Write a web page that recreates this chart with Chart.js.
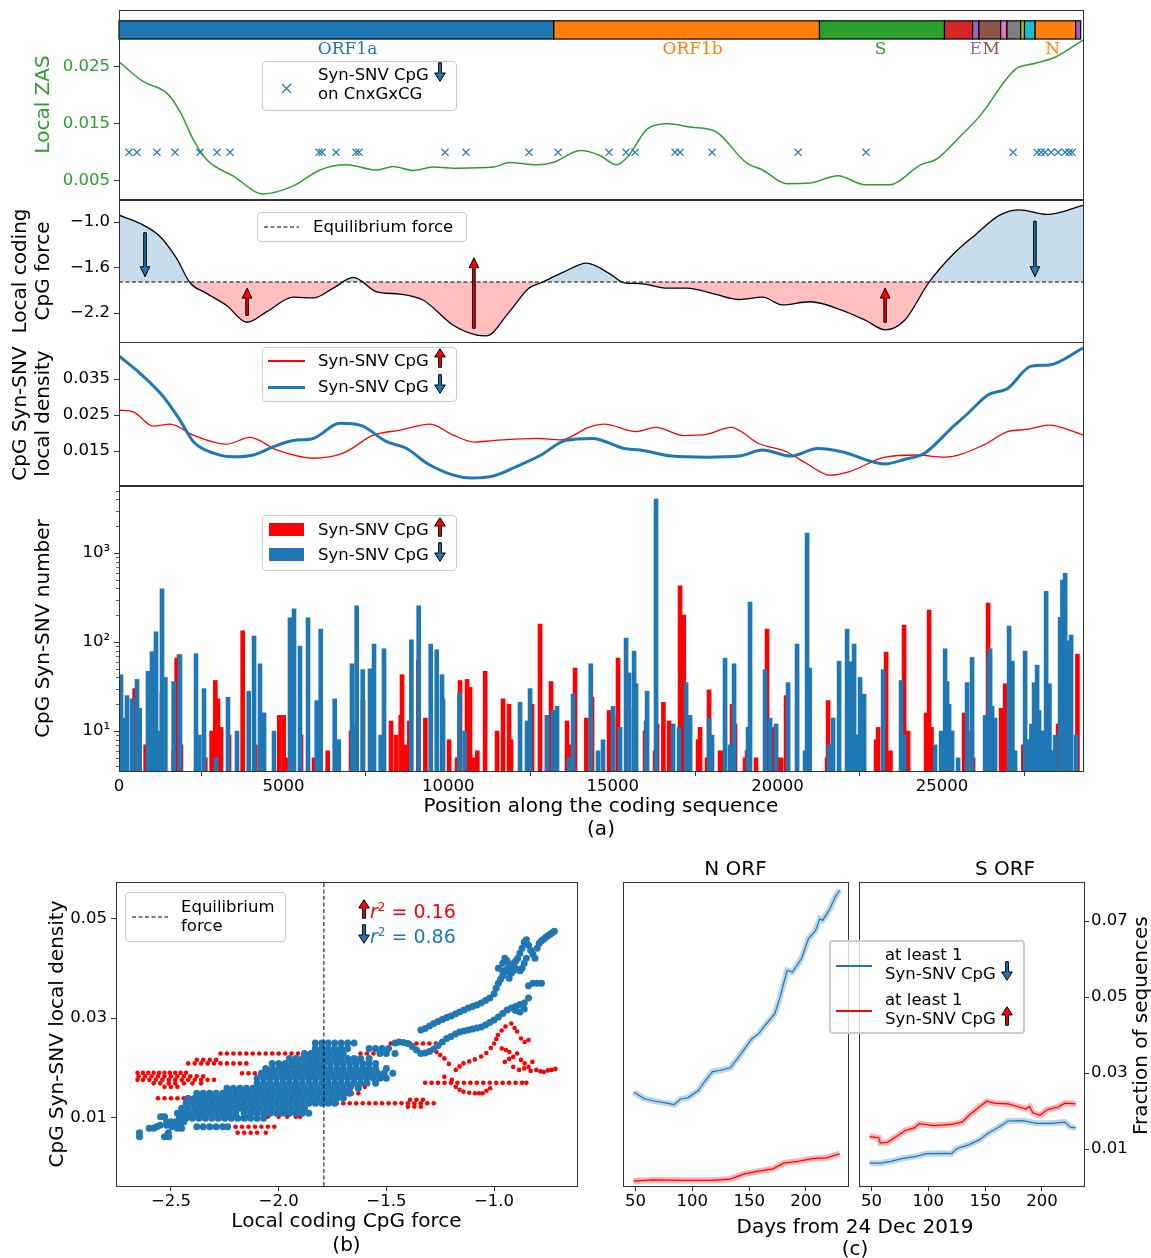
<!DOCTYPE html>
<html>
<head>
<meta charset="utf-8">
<script src="https://cdn.jsdelivr.net/npm/chart.js@4.4.1/dist/chart.umd.min.js"></script>
<style>
  body { margin: 0; background: #fff; font-family: 'DejaVu Sans', sans-serif; }
  #wrap { position: relative; width: 1151px; height: 1258px; overflow: hidden; }
  canvas { position: absolute; }
  .lg { position: absolute; background: rgba(255,255,255,0.8); border: 1px solid #ccc; border-radius: 4px; box-sizing: border-box; }
  .t { position: absolute; font-size: 16.5px; line-height: 19px; white-space: nowrap; color: #000; }
  .tt { position: absolute; font-size: 20px; line-height: 24px; white-space: nowrap; color: #000; }
  .ar { display: inline-block; vertical-align: middle; margin-top: -3px; }
</style>
</head>
<body>
<div id="wrap">
  <canvas id="zas" width="1151" height="200" style="left:0;top:0"></canvas>
  <canvas id="force" width="1151" height="150" style="left:0;top:195px"></canvas>
  <canvas id="dens" width="1151" height="150" style="left:0;top:337px"></canvas>
  <canvas id="bars" width="1151" height="365" style="left:0;top:480px"></canvas>
  <canvas id="scat" width="600" height="388" style="left:0;top:870px"></canvas>
  <canvas id="nOrf" width="260" height="362" style="left:600px;top:855px"></canvas>
  <canvas id="sOrf" width="301" height="362" style="left:850px;top:855px"></canvas>

  <!-- panel (a) legends -->
  <div class="lg" style="left:262px;top:61px;width:195px;height:50px"></div>
  <svg style="position:absolute;left:281px;top:83px" width="11" height="11"><path d="M1 1 L10 10 M10 1 L1 10" stroke="#1f77b4" stroke-width="1.2"/></svg>
  <div class="t" style="left:318px;top:65px">Syn-SNV CpG <span class="ar dn"></span></div>
  <div class="t" style="left:318px;top:84px">on CnxGxCG</div>

  <div class="lg" style="left:257px;top:212px;width:210px;height:30px"></div>
  <svg style="position:absolute;left:264px;top:225px" width="35" height="4"><line x1="0" y1="2" x2="35" y2="2" stroke="#000" stroke-width="1.2" stroke-dasharray="4,2.5"/></svg>
  <div class="t" style="left:313px;top:217px">Equilibrium force</div>

  <div class="lg" style="left:262px;top:347px;width:195px;height:55px"></div>
  <div style="position:absolute;left:268px;top:360px;width:37px;height:1.5px;background:#ff0000"></div>
  <div style="position:absolute;left:268px;top:385.5px;width:37px;height:3px;background:#1f77b4"></div>
  <div class="t" style="left:318px;top:351px">Syn-SNV CpG <span class="ar up"></span></div>
  <div class="t" style="left:318px;top:377px">Syn-SNV CpG <span class="ar dn"></span></div>

  <div class="lg" style="left:262px;top:515px;width:195px;height:56px"></div>
  <div style="position:absolute;left:269px;top:523px;width:35px;height:13px;background:#ff0000"></div>
  <div style="position:absolute;left:269px;top:548px;width:35px;height:13px;background:#1f77b4"></div>
  <div class="t" style="left:318px;top:520px">Syn-SNV CpG <span class="ar up"></span></div>
  <div class="t" style="left:318px;top:545px">Syn-SNV CpG <span class="ar dn"></span></div>

  <!-- panel (b) legend and r2 notes -->
  <div class="lg" style="left:125px;top:892px;width:161px;height:50px"></div>
  <svg style="position:absolute;left:132px;top:915px" width="36" height="4"><line x1="0" y1="2" x2="36" y2="2" stroke="#000" stroke-width="1.2" stroke-dasharray="4,2.5"/></svg>
  <div class="t" style="left:181px;top:897px">Equilibrium</div>
  <div class="t" style="left:181px;top:916px">force</div>
  <div class="t" style="left:358px;top:896px;font-size:19px;line-height:22px;color:#ff0000"><span class="ar up"></span><i>r</i><sup style="font-size:12px">2</sup> = 0.16</div>
  <div class="t" style="left:358px;top:921px;font-size:19px;line-height:22px;color:#1f77b4"><span class="ar dn"></span><i>r</i><sup style="font-size:12px">2</sup> = 0.86</div>

  <!-- panel (c) legend and shared labels -->
  <div class="lg" style="left:829px;top:940px;width:196px;height:94px;border:2px solid #ccc"></div>
  <div style="position:absolute;left:836px;top:965px;width:36px;height:1.5px;background:#1f77b4"></div>
  <div style="position:absolute;left:836px;top:1010px;width:36px;height:1.5px;background:#ff0000"></div>
  <div class="t" style="left:885px;top:945px">at least 1</div>
  <div class="t" style="left:885px;top:964px">Syn-SNV CpG <span class="ar dn"></span></div>
  <div class="t" style="left:885px;top:990px">at least 1</div>
  <div class="t" style="left:885px;top:1009px">Syn-SNV CpG <span class="ar up"></span></div>
  <div class="tt" style="left:655px;top:1214px;width:400px;text-align:center">Days from 24 Dec 2019</div>
  <div class="tt" style="left:655px;top:1236px;width:400px;text-align:center">(c)</div>
  <div class="tt" style="left:1040px;top:1023px;width:200px;text-align:center;transform:rotate(-90deg)">Fraction of sequences</div>
</div>

<script>
// ---------- genome annotation ----------
const geneStart  = [0, 13207, 21276, 25073, 25926, 26118, 26780, 26971, 27388, 27503, 27825, 29058];
const geneEnd    = [13207, 21276, 25073, 25926, 26118, 26780, 26971, 27388, 27503, 27825, 29058, 29210];
const geneColors = ['#1f77b4', '#ff7f0e', '#2ca02c', '#d62728', '#9467bd', '#8c564b', '#e377c2', '#7f7f7f', '#bcbd22', '#17becf', '#ff7f0e', '#9467bd'];
const geneLabels = ['ORF1a', 'ORF1b', 'S', 'E', 'M', 'N'];
const geneLabelPos = [6941, 17421, 23135, 26021, 26489, 28357];
const geneLabelColors = ['#1f77b4', '#ff7f0e', '#2ca02c', '#9467bd', '#8c564b', '#ff7f0e'];

// ---------- local ZAS ----------
const zasPos = [0, 740, 1450, 1850, 2260, 2665, 3475, 4385, 5295, 6105, 6915, 7830, 8330, 8940, 9550, 10300, 11380, 11860, 12700, 13180, 14025, 14620, 15105, 15460, 16065, 16665, 17385, 18105, 19070, 19550, 20270, 20990, 21830, 22670, 23390, 24350, 24830, 25500, 26150, 27230, 27800, 28430, 29280];
const zasVal = [0.0259, 0.0224, 0.0204, 0.0172, 0.0122, 0.0087, 0.0058, 0.0027, 0.0041, 0.0069, 0.0078, 0.0069, 0.0075, 0.0068, 0.0074, 0.0072, 0.0074, 0.0082, 0.0078, 0.0082, 0.0103, 0.0094, 0.0078, 0.0093, 0.0142, 0.0150, 0.0144, 0.0137, 0.0081, 0.0069, 0.0045, 0.0046, 0.0059, 0.0043, 0.0043, 0.0078, 0.0088, 0.0125, 0.0164, 0.0246, 0.0256, 0.0267, 0.0297];
const cnxgxcgPos = [304, 547, 1154, 1701, 2460, 2977, 3372, 6075, 6167, 6592, 7199, 7290, 9903, 10540, 12454, 13335, 14884, 15401, 15674, 16889, 17041, 18013, 20625, 22691, 27156, 27885, 28007, 28128, 28311, 28523, 28736, 28858, 28949];
const cnxgxcgLevel = 0.01;

// ---------- local coding CpG force ----------
const forcePos = [0, 640, 1245, 1750, 2157, 2660, 3270, 3880, 4490, 5295, 5900, 6510, 7120, 7830, 8535, 9245, 10155, 10865, 11150, 11860, 12455, 12820, 13500, 14200, 14900, 15340, 15825, 16665, 17250, 18100, 18830, 19550, 20140, 20990, 21950, 22700, 23270, 23870, 24590, 25300, 26030, 26750, 27340, 28190, 29280];
const forceVal = [-0.91, -1.02, -1.19, -1.48, -1.80, -1.94, -2.10, -2.32, -2.18, -1.99, -2.00, -1.87, -1.73, -1.92, -1.95, -2.03, -2.36, -2.49, -2.50, -2.18, -1.87, -1.80, -1.66, -1.54, -1.68, -1.80, -1.81, -1.87, -1.87, -1.95, -2.02, -1.99, -2.09, -2.05, -2.16, -2.30, -2.42, -2.29, -1.80, -1.44, -1.16, -0.91, -0.84, -0.90, -0.78];
const equilibriumForce = -1.79;
const arrowPos  = [790, 3890, 10780, 23270, 27820];
const arrowFrom = [-1.14, -2.23, -2.40, -2.32, -0.99];
const arrowTo   = [-1.72, -1.87, -1.47, -1.87, -1.72];

// ---------- CpG Syn-SNV local density ----------
const densBluePos = [0, 640, 1350, 1850, 2260, 2870, 3470, 4080, 4690, 5295, 5900, 6710, 7320, 8130, 8740, 9350, 10155, 10700, 11380, 12100, 12820, 13545, 14385, 15340, 15825, 16785, 17865, 18830, 19550, 20390, 21225, 21950, 23270, 23870, 24470, 25310, 25790, 26390, 26990, 27710, 28250, 29280];
const densBlue = [0.0414, 0.0366, 0.0301, 0.0236, 0.0176, 0.0144, 0.0134, 0.0139, 0.0162, 0.0179, 0.0185, 0.0227, 0.0222, 0.0176, 0.0157, 0.0116, 0.0083, 0.0075, 0.0081, 0.0108, 0.0139, 0.0179, 0.0185, 0.0157, 0.0153, 0.0136, 0.0133, 0.0136, 0.0153, 0.0136, 0.0157, 0.0148, 0.0114, 0.0127, 0.0144, 0.0216, 0.0255, 0.0306, 0.0324, 0.0386, 0.0389, 0.0436];
const densRedPos = [0, 435, 1040, 1550, 2260, 3270, 3980, 4790, 5900, 6810, 7725, 8535, 9450, 10155, 10800, 11380, 12700, 13430, 14265, 14745, 15705, 16305, 17145, 17865, 18590, 19425, 20270, 20870, 21590, 22190, 23270, 24230, 25070, 26270, 26990, 27590, 28250, 29280];
const densRed = [0.0264, 0.0259, 0.0219, 0.0225, 0.0194, 0.0169, 0.0188, 0.0153, 0.0130, 0.0144, 0.0194, 0.0208, 0.0225, 0.0194, 0.0175, 0.0179, 0.0185, 0.0181, 0.0216, 0.0225, 0.0204, 0.0216, 0.0193, 0.0197, 0.0216, 0.0171, 0.0148, 0.0116, 0.0083, 0.0093, 0.0133, 0.0139, 0.0133, 0.0167, 0.0204, 0.0210, 0.0222, 0.0195];

// ---------- CpG Syn-SNV number (histogram) ----------
const blueBarPos = [30, 122, 213, 304, 456, 608, 689, 942, 1063, 1185, 1276, 1367, 1468, 1722, 1914, 2400, 2500, 2643, 3007, 3372, 3645, 4000, 4162, 4344, 4466, 4769, 5255, 5377, 5559, 5802, 6066, 6187, 6612, 6734, 7138, 7199, 7280, 7463, 7685, 7807, 8009, 8110, 8941, 9164, 9528, 9711, 9872, 9903, 10400, 10561, 12242, 12454, 12546, 13062, 13244, 13366, 13730, 13852, 14390, 14611, 14763, 15067, 15280, 15462, 15553, 15705, 15766, 16070, 16100, 16373, 16890, 17072, 17285, 17406, 17983, 18074, 18469, 18620, 18742, 19167, 19228, 19684, 19836, 20018, 20383, 20656, 20899, 20960, 21041, 21628, 21750, 21932, 22175, 22297, 22388, 22449, 22570, 22692, 23269, 23815, 23907, 24849, 25031, 25152, 25213, 25274, 25365, 25547, 25820, 25972, 26367, 26489, 26519, 26580, 26671, 27096, 27197, 27278, 27582, 27683, 27774, 27855, 27947, 28008, 28099, 28220, 28321, 28382, 28494, 28646, 28716, 28798, 28859, 28899, 28980, 29132];
const blueBarCount = [6, 43, 14, 25, 23, 38, 18, 47, 78, 130, 10, 397, 40, 36, 72, 74, 9, 30, 5, 24, 10, 28, 117, 57, 16, 10, 187, 236, 90, 187, 22, 140, 23, 8, 57, 12, 255, 49, 50, 95, 9, 84, 106, 255, 95, 82, 43, 23, 27, 10, 21, 13, 30, 15, 17, 19, 5, 26, 57, 6, 8, 19, 11, 111, 45, 79, 34, 13, 28, 4040, 12, 11, 35, 15, 14, 9, 66, 7, 57, 11, 282, 49, 14, 12, 35, 95, 6, 1680, 51, 7, 14, 61, 140, 60, 95, 9, 40, 26, 49, 37, 9, 7, 10, 84, 36, 20, 10, 5, 35, 67, 15, 67, 84, 19, 14, 151, 61, 6, 79, 8, 12, 35, 55, 17, 10, 372, 34, 6, 9, 190, 496, 592, 103, 13, 120, 9];
const redBarPos = [415, 749, 1245, 1600, 1691, 1762, 1822, 2561, 2754, 2864, 2946, 3038, 3281, 3696, 4080, 4809, 4941, 5043, 5154, 5468, 5863, 6278, 6987, 7351, 7574, 8202, 8354, 8496, 8536, 8637, 8759, 9032, 9245, 9964, 10207, 10298, 10510, 10601, 10702, 10823, 11060, 11422, 11604, 11786, 11847, 12363, 12485, 12728, 12941, 13062, 13153, 13548, 13670, 13791, 14135, 14307, 14824, 14945, 15097, 15370, 15583, 15917, 16221, 16282, 16475, 16647, 16981, 17093, 17527, 17588, 17800, 17861, 18195, 18317, 18560, 18651, 18955, 19016, 19289, 19623, 19775, 19927, 20049, 20201, 21446, 21477, 22935, 22996, 23239, 23370, 23785, 23907, 24454, 24545, 24616, 25608, 25709, 25881, 26337, 26732, 26853, 27408, 28138, 28463, 28554, 29050];
const redBarCount = [30, 7, 27, 6, 66, 72, 7, 5, 10, 37, 23, 11, 9, 134, 7, 15, 15, 5, 7, 9, 5, 6, 10, 22, 7, 13, 9, 15, 43, 7, 13, 63, 14, 8, 5, 37, 38, 31, 5, 6, 47, 10, 23, 20, 8, 5, 20, 159, 15, 36, 17, 13, 7, 51, 14, 24, 17, 15, 66, 28, 18, 10, 6, 12, 21, 13, 427, 201, 8, 11, 5, 29, 6, 6, 20, 12, 5, 6, 5, 140, 11, 5, 5, 25, 5, 22, 8, 11, 77, 6, 155, 10, 16, 229, 11, 16, 10, 5, 274, 18, 34, 7, 5, 12, 19, 73];

// ---------- (b) force vs density: horizontal runs of points (density level -> forces) ----------
const redRowLevel = [0.0190, 0.0183, 0.0176, 0.0169, 0.0162, 0.0209, 0.0216, 0.0229, 0.0139, 0.0122, 0.0102, 0.0082, 0.0070, 0.0189, 0.0202, 0.0149, 0.0162, 0.0129, 0.0229, 0.0249, 0.0122, 0.0136, 0.0170];
const redRowForce = [
  [-2.655, -2.63, -2.605, -2.58, -2.555, -2.53, -2.505, -2.48, -2.455, -2.43],
  [-2.65, -2.62, -2.59, -2.56, -2.53, -2.50, -2.47, -2.44, -2.41, -2.38, -2.35],
  [-2.655, -2.63, -2.60, -2.57, -2.54, -2.51, -2.48, -2.45, -2.42, -2.39, -2.36, -2.33, -2.30],
  [-2.58, -2.55, -2.51, -2.48, -2.44, -2.40, -2.36],
  [-2.53, -2.50, -2.47],
  [-2.42, -2.39, -2.36, -2.33, -2.30, -2.27, -2.24, -2.21, -2.18, -2.15],
  [-2.38, -2.35, -2.32, -2.29],
  [-2.27, -2.24, -2.21, -2.18, -2.15, -2.12, -2.09, -2.06, -2.03, -2.00, -1.97, -1.94, -1.91, -1.88, -1.85, -1.82, -1.79, -1.76, -1.73],
  [-2.56, -2.53, -2.50, -2.47, -2.44, -2.41, -2.38, -2.35, -2.32, -2.29, -2.26, -2.23, -2.20, -2.17, -2.14, -2.11, -2.08],
  [-2.35, -2.32, -2.29, -2.26, -2.23, -2.20],
  [-2.25, -2.20, -2.15, -2.10, -2.05, -2.00, -1.96, -1.92, -1.90],
  [-2.20, -2.17, -2.14, -2.11, -2.08, -2.05, -2.02],
  [-2.19, -2.16, -2.13, -2.10, -2.06],
  [-2.17, -2.14, -2.11, -2.08],
  [-1.98, -1.95, -1.92, -1.89, -1.86, -1.83, -1.80],
  [-1.72, -1.69, -1.66, -1.63],
  [-1.66, -1.63, -1.60],
  [-1.79, -1.76, -1.73, -1.70, -1.67, -1.64, -1.61, -1.58, -1.55, -1.52, -1.49, -1.46, -1.43, -1.40, -1.37, -1.34, -1.31, -1.28],
  [-1.62, -1.59, -1.56, -1.53],
  [-1.48, -1.45, -1.42, -1.39, -1.36, -1.33, -1.30, -1.27],
  [-1.40, -1.37, -1.34],
  [-1.39, -1.36, -1.33],
  [-1.32, -1.29, -1.26, -1.23, -1.20, -1.17, -1.14, -1.11, -1.08, -1.05, -1.02, -0.99, -0.96, -0.93, -0.90, -0.87, -0.85]
];
const redExtra = [
  [-1.267, 0.0232], [-1.25, 0.0226], [-1.231, 0.0219], [-1.21, 0.0208], [-1.178, 0.0196], [-1.16, 0.0203], [-1.142, 0.0209], [-1.115, 0.0213],
  [-1.089, 0.0217], [-1.06, 0.0223], [-1.036, 0.0230], [-1.015, 0.0240], [-1.000, 0.0249], [-0.99, 0.0258], [-0.982, 0.0266], [-0.965, 0.0275],
  [-0.947, 0.0283], [-0.920, 0.0289], [-0.905, 0.0280], [-0.893, 0.0273], [-0.875, 0.0259], [-0.858, 0.0252], [-0.840, 0.0256],
  [-0.964, 0.0239], [-0.945, 0.0236], [-0.929, 0.0232], [-0.911, 0.0222], [-0.893, 0.0229], [-0.875, 0.0216], [-0.858, 0.0209], [-0.840, 0.0202],
  [-0.822, 0.0212], [-0.911, 0.0202], [-0.884, 0.0196], [-0.86, 0.0199], [-0.83, 0.0194], [-0.804, 0.0196], [-0.785, 0.0193], [-0.769, 0.0192],
  [-0.75, 0.0195], [-0.733, 0.0196], [-0.715, 0.0198], [-0.950, 0.0212], [-0.93, 0.0218],
  [-1.178, 0.0162], [-1.16, 0.0156], [-1.142, 0.0152], [-1.115, 0.0150], [-1.089, 0.0149], [-1.07, 0.0149], [-1.053, 0.0149], [-1.035, 0.0154],
  [-1.018, 0.0159], [-1.231, 0.0182], [-1.196, 0.0176]
];
const blueRowLevel = [0.0062, 0.0070, 0.0079, 0.0082, 0.0085, 0.0092, 0.0099, 0.0102, 0.0109, 0.0119, 0.0129, 0.0139, 0.0149, 0.0159, 0.0169, 0.0179, 0.0189, 0.0199, 0.0209, 0.0219, 0.0229, 0.0239, 0.0250];
const blueRowForce = [
  [-2.646, -2.53, -2.51],
  [-2.646, -2.512],
  [-2.601, -2.58, -2.47, -2.45],
  [-2.566, -2.495, -2.38, -2.35, -2.32, -2.29, -2.26, -2.237],
  [-2.55, -2.52],
  [-2.477, -2.50, -2.52, -2.46, -2.44],
  [-2.46, -2.43, -2.40, -2.37, -2.34, -2.31, -2.28, -2.25, -2.22, -2.19, -2.16, -2.13, -2.10, -2.07],
  [-2.548, -2.53, -2.459],
  [-2.47, -2.44, -2.41, -2.38, -2.35, -2.32, -2.29, -2.26, -2.23, -2.20, -2.16, -2.13, -2.10, -2.07, -2.04, -2.01, -1.98, -1.95, -1.92, -1.89, -1.86],
  [-2.45, -2.42, -2.39, -2.36, -2.33, -2.30, -2.27, -2.24, -2.21, -2.18, -2.15, -2.12, -2.09, -2.06, -2.03, -2.00, -1.97, -1.94, -1.91, -1.88],
  [-2.43, -2.40, -2.37, -2.34, -2.31, -2.28, -2.25, -2.22, -2.19, -2.16, -2.13, -2.10, -2.07, -2.04, -2.01, -1.98, -1.95, -1.92, -1.89, -1.86, -1.83, -1.80, -1.77, -1.74],
  [-2.42, -2.39, -2.36, -2.33, -2.30, -2.27, -2.24, -2.21, -2.18, -2.15, -2.12, -2.09, -2.06, -2.03, -2.00, -1.97, -1.94, -1.91, -1.88, -1.85, -1.82, -1.79, -1.76, -1.73, -1.70],
  [-2.38, -2.35, -2.32, -2.29, -2.26, -2.23, -2.20, -2.17, -2.14, -2.11, -2.08, -2.05, -2.02, -1.99, -1.96, -1.93, -1.90, -1.87, -1.84, -1.81, -1.78, -1.75, -1.72, -1.69, -1.67],
  [-2.24, -2.21, -2.18, -2.15, -2.12, -2.09, -2.06, -2.03, -2.00, -1.97, -1.94, -1.91, -1.88, -1.85, -1.82, -1.79, -1.76, -1.73, -1.70, -1.67, -1.63],
  [-2.10, -2.07, -2.04, -2.01, -1.98, -1.95, -1.92, -1.89, -1.86, -1.83, -1.80, -1.77, -1.74, -1.71, -1.68, -1.65, -1.62, -1.59, -1.55],
  [-2.10, -2.07, -2.04, -2.01, -1.98, -1.95, -1.92, -1.89, -1.86, -1.83, -1.80, -1.77, -1.74, -1.71, -1.68, -1.65, -1.62, -1.59, -1.56, -1.53, -1.50],
  [-2.08, -2.05, -2.02, -1.99, -1.96, -1.93, -1.90, -1.87, -1.84, -1.81, -1.78, -1.75, -1.72, -1.69, -1.66, -1.63, -1.60, -1.57, -1.54, -1.51, -1.47],
  [-2.06, -2.03, -2.00, -1.97, -1.94, -1.91, -1.88, -1.85, -1.82, -1.79, -1.76, -1.73, -1.70, -1.67, -1.64, -1.61, -1.58, -1.55, -1.50],
  [-2.03, -2.00, -1.97, -1.94, -1.91, -1.88, -1.85, -1.82, -1.79, -1.76, -1.73, -1.70, -1.67, -1.64, -1.61, -1.58, -1.55],
  [-1.95, -1.92, -1.89, -1.86, -1.83, -1.80, -1.77, -1.74, -1.71, -1.68, -1.65, -1.62, -1.58],
  [-1.88, -1.85, -1.82, -1.79, -1.76, -1.73, -1.70, -1.53, -1.50, -1.46],
  [-1.83, -1.80, -1.77, -1.74, -1.71, -1.68, -1.58, -1.55, -1.52, -1.49],
  [-1.83, -1.80, -1.77, -1.74, -1.71, -1.68, -1.65]
];
const blueExtra = [
  [-1.46, 0.0250], [-1.44, 0.0252], [-1.42, 0.0251], [-1.40, 0.0249], [-1.38, 0.0243], [-1.36, 0.0236], [-1.34, 0.0229], [-1.32, 0.0230],
  [-1.30, 0.0233], [-1.28, 0.0238], [-1.26, 0.0245], [-1.24, 0.0252], [-1.22, 0.0259], [-1.20, 0.0263], [-1.18, 0.0268], [-1.16, 0.0272],
  [-1.14, 0.0274], [-1.12, 0.0276], [-1.10, 0.0278], [-1.08, 0.0280], [-1.06, 0.0282], [-1.04, 0.0286], [-1.02, 0.0291], [-1.00, 0.0296],
  [-0.98, 0.0302], [-0.96, 0.0309], [-0.94, 0.0316], [-0.92, 0.0320], [-0.90, 0.0323], [-0.88, 0.0327], [-0.86, 0.0330], [-0.84, 0.0340],
  [-0.84, 0.0365], [-0.82, 0.0370], [-0.80, 0.0370], [-0.78, 0.0370], [-0.90, 0.0315], [-0.88, 0.0312], [-0.86, 0.0318],
  [-1.34, 0.0276], [-1.32, 0.0279], [-1.30, 0.0284], [-1.28, 0.0289], [-1.26, 0.0293], [-1.24, 0.0297], [-1.22, 0.0301], [-1.20, 0.0304],
  [-1.18, 0.0308], [-1.16, 0.0312], [-1.14, 0.0316], [-1.12, 0.0320], [-1.10, 0.0323], [-1.08, 0.0326], [-1.06, 0.0330], [-1.04, 0.0335],
  [-1.02, 0.0340], [-1.00, 0.0349], [-0.99, 0.0360], [-0.98, 0.0370], [-0.97, 0.0378], [-0.96, 0.0385], [-0.95, 0.0392], [-0.94, 0.0398],
  [-0.93, 0.0403], [-0.92, 0.0407], [-0.91, 0.0410], [-0.90, 0.0414], [-0.89, 0.0420], [-0.88, 0.0430], [-0.87, 0.0440], [-0.86, 0.0452],
  [-0.85, 0.0457], [-0.84, 0.0446], [-0.83, 0.0436], [-0.82, 0.0428], [-0.81, 0.0420], [-0.80, 0.0440], [-0.79, 0.0450], [-0.78, 0.0455],
  [-0.77, 0.0458], [-0.76, 0.0462], [-0.75, 0.0465], [-0.74, 0.0468], [-0.73, 0.0471], [-0.72, 0.0474],
  [-0.98, 0.0400], [-0.96, 0.0410], [-0.95, 0.0420], [-0.94, 0.0415], [-0.92, 0.0390], [-0.91, 0.0395], [-0.90, 0.0400], [-0.88, 0.0395],
  [-0.87, 0.0400], [-0.86, 0.0410], [-0.85, 0.0420], [-0.93, 0.0380], [-0.96, 0.0395]
];

// ---------- (c) fraction of sequences ----------
const nBlueDay = [48.4, 58.4, 67.8, 77.2, 84, 89.7, 96, 105.3, 111.6, 117.8, 124, 133.4, 139.7, 145.9, 152.2, 158.4, 164.7, 172.5, 177.2, 183.4, 188.1, 196, 202.2, 208.4, 212.2, 214.7, 221, 225.6, 229.7];
const nBlueFrac = [0.0250, 0.0232, 0.0226, 0.0221, 0.0217, 0.0232, 0.0235, 0.0254, 0.0281, 0.0304, 0.0307, 0.0314, 0.0338, 0.0364, 0.0390, 0.0404, 0.0428, 0.0456, 0.0500, 0.0570, 0.0566, 0.0601, 0.0654, 0.0675, 0.0706, 0.0702, 0.0732, 0.0763, 0.0782];
const nRedDay = [48.4, 64.7, 96, 117.8, 133.4, 145.9, 158.4, 170.9, 180.3, 192.8, 205.3, 217.8, 229.7];
const nRedFrac = [0.0016, 0.0019, 0.0018, 0.0018, 0.0021, 0.0035, 0.0042, 0.0048, 0.0063, 0.0068, 0.0075, 0.0077, 0.0088];
const sRedDay = [48.4, 56.3, 57.8, 64, 70.3, 79.7, 87.5, 92.2, 104.7, 120.3, 129.7, 135.9, 145.3, 151.6, 157.8, 170.3, 179.7, 185.9, 189.1, 192.2, 198.4, 204.7, 214.1, 220.3, 229.7];
const sRedFrac = [0.0133, 0.0130, 0.0116, 0.0118, 0.0130, 0.0149, 0.0156, 0.0167, 0.0162, 0.0165, 0.0171, 0.0189, 0.0212, 0.0226, 0.0221, 0.0219, 0.0211, 0.0206, 0.0212, 0.0195, 0.0189, 0.0204, 0.0211, 0.0221, 0.0219];
const sBlueDay = [48.4, 57.8, 67.2, 76.6, 89.1, 98.4, 114.1, 120.3, 125, 135.9, 145.3, 151.6, 161, 170.3, 182.8, 195.3, 207.8, 220.3, 225, 229.7];
const sBlueFrac = [0.0063, 0.0063, 0.0068, 0.0075, 0.0081, 0.0088, 0.0089, 0.0088, 0.0101, 0.0112, 0.0125, 0.0140, 0.0156, 0.0174, 0.0175, 0.0168, 0.0168, 0.0171, 0.0158, 0.0156];

// ---------- arrows in legends (svg) ----------
const upSvg = '<svg width="12" height="20" viewBox="0 0 12 20"><path d="M6 0.7 L11.3 9 L7.4 9 L7.4 19.3 L4.6 19.3 L4.6 9 L0.7 9 Z" fill="#ff0000" stroke="#000" stroke-width="1"/></svg>';
const dnSvg = '<svg width="12" height="20" viewBox="0 0 12 20"><path d="M6 19.3 L11.3 11 L7.4 11 L7.4 0.7 L4.6 0.7 L4.6 11 L0.7 11 Z" fill="#1f77b4" stroke="#000" stroke-width="1"/></svg>';
document.querySelectorAll('.ar.up').forEach(e => e.innerHTML = upSvg);
document.querySelectorAll('.ar.dn').forEach(e => e.innerHTML = dnSvg);

// ---------- chart setup ----------
Chart.defaults.font.family = 'DejaVu Sans';
Chart.defaults.font.size = 16.5;
Chart.defaults.color = '#000';
Chart.defaults.animation = false;
Chart.defaults.layout.autoPadding = false;
Chart.defaults.plugins.legend.display = false;
Chart.defaults.plugins.tooltip.enabled = false;

const xy = (xs, ys) => xs.map((x, i) => ({ x, y: ys[i] }));
const rows = (levels, forces) => levels.flatMap((y, i) => forces[i].map(x => ({ x, y })));
const minus = s => String(s).replace('-', '\u2212');

const frame = {
  id: 'frame',
  afterDraw(c) {
    const a = c.chartArea, ctx = c.ctx;
    ctx.save();
    ctx.strokeStyle = '#333';
    ctx.lineWidth = 1;
    ctx.strokeRect(Math.round(a.left) + 0.5, Math.round(a.top) + 0.5, Math.round(a.right - a.left), Math.round(a.bottom - a.top));
    ctx.restore();
  }
};

const tickGrid = { display: true, drawOnChartArea: false, drawTicks: true, tickLength: 5, color: '#333' };

function leftAxis(min, max, ticks, fmt, title, opts = {}) {
  const color = opts.color || '#000';
  return {
    type: opts.type || 'linear', min, max,
    border: { display: false },
    grid: tickGrid,
    afterBuildTicks: s => { s.ticks = ticks.map(v => ({ value: v })); },
    afterFit: s => { s.width = opts.width || 119; s.paddingTop = 0; s.paddingBottom = 0; },
    ticks: { autoSkip: false, padding: 4, color, callback: fmt },
    title: {
      display: true, text: title, color,
      font: { size: 20, lineHeight: opts.lh || 1.15 },
      padding: { top: opts.titlePad, bottom: 0 }
    }
  };
}

const seqLen = 29280;
const seqX = { type: 'linear', min: 0, max: seqLen, display: false };

// ZAS + genome bar
const genome = {
  id: 'genome',
  afterDatasetsDraw(c) {
    const x = c.scales.x, y = c.scales.y, ctx = c.ctx;
    const yt = y.getPixelForValue(0.0331), yb = y.getPixelForValue(0.0299);
    ctx.save();
    geneStart.forEach((s, i) => {
      const x0 = x.getPixelForValue(s), x1 = x.getPixelForValue(geneEnd[i]);
      ctx.fillStyle = geneColors[i];
      ctx.fillRect(x0, yt, x1 - x0, yb - yt);
      ctx.strokeStyle = '#000';
      ctx.lineWidth = 1.2;
      ctx.strokeRect(x0, yt, x1 - x0, yb - yt);
    });
    ctx.font = '17px "DejaVu Serif"';
    ctx.textAlign = 'center';
    ctx.textBaseline = 'middle';
    geneLabels.forEach((g, i) => {
      ctx.fillStyle = geneLabelColors[i];
      ctx.fillText(g, x.getPixelForValue(geneLabelPos[i]), y.getPixelForValue(0.0280));
    });
    ctx.restore();
  }
};

new Chart(document.getElementById('zas'), {
  type: 'line',
  data: {
    datasets: [
      { data: cnxgxcgPos.map(p => ({ x: p, y: cnxgxcgLevel })), showLine: false, pointStyle: 'crossRot', pointRadius: 5, borderColor: '#1f77b4', borderWidth: 1.2 },
      { data: xy(zasPos, zasVal), borderColor: '#2ca02c', borderWidth: 1.5, pointRadius: 0, cubicInterpolationMode: 'monotone' }
    ]
  },
  options: {
    responsive: false,
    layout: { padding: { top: 10, bottom: 1, right: 68, left: 0 } },
    scales: {
      x: seqX,
      y: leftAxis(0.0018, 0.035, [0.005, 0.015, 0.025], v => v.toFixed(3), 'Local ZAS', { color: '#2ca02c', titlePad: 32 })
    }
  },
  plugins: [frame, genome]
});

// Local coding CpG force
const forceArrows = {
  id: 'forceArrows',
  afterDatasetsDraw(c) {
    const x = c.scales.x, y = c.scales.y, ctx = c.ctx;
    ctx.save();
    arrowPos.forEach((p, i) => {
      const px = x.getPixelForValue(p);
      const y0 = y.getPixelForValue(arrowFrom[i]), y1 = y.getPixelForValue(arrowTo[i]);
      const dir = y1 > y0 ? 1 : -1;
      const hb = y1 - dir * 10;
      ctx.beginPath();
      ctx.moveTo(px, y1);
      ctx.lineTo(px + 4.8, hb);
      ctx.lineTo(px + 1.3, hb);
      ctx.lineTo(px + 1.3, y0);
      ctx.lineTo(px - 1.3, y0);
      ctx.lineTo(px - 1.3, hb);
      ctx.lineTo(px - 4.8, hb);
      ctx.closePath();
      ctx.fillStyle = dir > 0 ? '#1f77b4' : '#ff0000';
      ctx.fill();
      ctx.strokeStyle = '#000';
      ctx.lineWidth = 1;
      ctx.stroke();
    });
    ctx.restore();
  }
};

new Chart(document.getElementById('force'), {
  type: 'line',
  data: {
    datasets: [
      { data: [{ x: 0, y: equilibriumForce }, { x: seqLen, y: equilibriumForce }], borderColor: '#000', borderWidth: 1, borderDash: [4, 2.5], pointRadius: 0 },
      { data: xy(forcePos, forceVal), borderColor: '#000', borderWidth: 1.3, pointRadius: 0, cubicInterpolationMode: 'monotone',
        fill: { target: { value: equilibriumForce }, above: 'rgba(31,119,180,0.25)', below: 'rgba(255,0,0,0.25)' } }
    ]
  },
  options: {
    responsive: false,
    layout: { padding: { top: 5, bottom: 3, right: 68, left: 0 } },
    scales: {
      x: seqX,
      y: leftAxis(-2.58, -0.71, [-2.2, -1.6, -1.0], v => minus(v.toFixed(1)), ['Local coding', 'CpG force'], { titlePad: 9.5 })
    }
  },
  plugins: [frame, forceArrows]
});

// CpG Syn-SNV local density
new Chart(document.getElementById('dens'), {
  type: 'line',
  data: {
    datasets: [
      { data: xy(densBluePos, densBlue), borderColor: '#1f77b4', borderWidth: 3, pointRadius: 0, cubicInterpolationMode: 'monotone' },
      { data: xy(densRedPos, densRed), borderColor: '#ff0000', borderWidth: 1.3, pointRadius: 0, cubicInterpolationMode: 'monotone' }
    ]
  },
  options: {
    responsive: false,
    layout: { padding: { top: 5, bottom: 2, right: 68, left: 0 } },
    scales: {
      x: seqX,
      y: leftAxis(0.00556, 0.0453, [0.015, 0.025, 0.035], v => v.toFixed(3), ['CpG Syn-SNV', 'local density'], { titlePad: 9.5 })
    }
  },
  plugins: [frame]
});

// CpG Syn-SNV number histogram
const sup = { 10: '10\u00b9', 100: '10\u00b2', 1000: '10\u00b3' };
const minorLog = {
  id: 'minorLog',
  afterDraw(c) {
    const y = c.scales.y, ctx = c.ctx, left = c.chartArea.left;
    ctx.save();
    ctx.strokeStyle = '#333';
    ctx.lineWidth = 0.8;
    [1, 10, 100, 1000].forEach(d => {
      for (let m = 2; m <= 9; m++) {
        const v = d * m;
        if (v < y.min || v > y.max) continue;
        const py = Math.round(y.getPixelForValue(v)) + 0.5;
        ctx.beginPath(); ctx.moveTo(left - 3, py); ctx.lineTo(left, py); ctx.stroke();
      }
    });
    ctx.restore();
  }
};

new Chart(document.getElementById('bars'), {
  type: 'bar',
  data: {
    datasets: [
      { data: xy(blueBarPos, blueBarCount), backgroundColor: '#1f77b4', barThickness: 4 },
      { data: xy(redBarPos, redBarCount), backgroundColor: '#ff0000', barThickness: 4 }
    ]
  },
  options: {
    responsive: false,
    layout: { padding: { top: 6, bottom: 0, right: 68, left: 0 } },
    scales: {
      x: {
        type: 'linear', min: 0, max: seqLen, offset: false,
        border: { display: false }, grid: tickGrid,
        afterBuildTicks: s => { s.ticks = [0, 5000, 10000, 15000, 20000, 25000].map(v => ({ value: v })); },
        afterFit: s => { s.height = 74; s.paddingLeft = 0; s.paddingRight = 0; },
        ticks: { autoSkip: false, maxRotation: 0, padding: 1, callback: v => String(v) },
        title: { display: true, text: ['Position along the coding sequence', '(a)'], font: { size: 20, lineHeight: 1.15 }, padding: { top: 0, bottom: 4 } }
      },
      y: leftAxis(3.56, 5660, [10, 100, 1000], v => sup[v] || '', 'CpG Syn-SNV number', { type: 'logarithmic', titlePad: 32 })
    }
  },
  plugins: [frame, minorLog]
});

// (b) scatter
new Chart(document.getElementById('scat'), {
  type: 'scatter',
  data: {
    datasets: [
      { data: [{ x: equilibriumForce, y: -0.0037 }, { x: equilibriumForce, y: 0.0573 }], showLine: true, borderColor: '#000', borderWidth: 1, borderDash: [4, 2.5], pointRadius: 0 },
      { data: rows(blueRowLevel, blueRowForce).concat(blueExtra.map(([x, y]) => ({ x, y }))), backgroundColor: '#1f77b4', pointRadius: 3.5, borderWidth: 0 },
      { data: rows(redRowLevel, redRowForce).concat(redExtra.map(([x, y]) => ({ x, y }))), backgroundColor: '#ff0000', pointRadius: 2.3, borderWidth: 0 }
    ]
  },
  options: {
    responsive: false,
    layout: { padding: { top: 12, bottom: 0, right: 23, left: 0 } },
    scales: {
      x: {
        type: 'linear', min: -2.755, max: -0.615,
        border: { display: false }, grid: tickGrid,
        afterBuildTicks: s => { s.ticks = [-2.5, -2.0, -1.5, -1.0].map(v => ({ value: v })); },
        afterFit: s => { s.height = 72; s.paddingLeft = 0; s.paddingRight = 0; },
        ticks: { autoSkip: false, maxRotation: 0, padding: 1, callback: v => minus(v.toFixed(1)) },
        title: { display: true, text: ['Local coding CpG force', '(b)'], font: { size: 20, lineHeight: 1.2 }, padding: { top: 0, bottom: 0 } }
      },
      y: leftAxis(-0.0037, 0.0573, [0.01, 0.03, 0.05], v => v.toFixed(2), 'CpG Syn-SNV local density', { width: 116, titlePad: 46, lh: 1.2 })
    }
  },
  plugins: [frame]
});

// (c) N ORF and S ORF
function fracChart(id, title, blueD, blueF, redD, redF, rightAxis) {
  const y = rightAxis ? {
    type: 'linear', position: 'right', min: 0.0003, max: 0.0803,
    border: { display: false }, grid: tickGrid,
    afterBuildTicks: s => { s.ticks = [0.01, 0.03, 0.05, 0.07].map(v => ({ value: v })); },
    afterFit: s => { s.width = 67; s.paddingTop = 0; s.paddingBottom = 0; },
    ticks: { autoSkip: false, padding: 2, callback: v => v.toFixed(2) }
  } : { type: 'linear', min: 0.0003, max: 0.0803, display: false };
  return new Chart(document.getElementById(id), {
    type: 'line',
    data: {
      datasets: [
        { data: xy(blueD, blueF), borderColor: '#1f77b4', borderWidth: 1.2, pointRadius: 0 },
        { data: xy(redD, redF), borderColor: '#ff0000', borderWidth: 1.2, pointRadius: 0 },
        { data: xy(blueD, blueF), borderColor: 'rgba(31,119,180,0.3)', borderWidth: 6, pointRadius: 0 },
        { data: xy(redD, redF), borderColor: 'rgba(255,0,0,0.3)', borderWidth: 6, pointRadius: 0 }
      ]
    },
    options: {
      responsive: false,
      layout: { padding: rightAxis ? { top: 0, bottom: 0, left: 9, right: 0 } : { top: 0, bottom: 0, left: 23, right: 12 } },
      plugins: { title: { display: true, text: title, font: { size: 20, weight: 'normal', lineHeight: 1.2 }, color: '#000', padding: { top: 3, bottom: 0 } } },
      scales: {
        x: {
          type: 'linear', min: 39, max: 237,
          border: { display: false }, grid: tickGrid,
          afterBuildTicks: s => { s.ticks = [50, 100, 150, 200].map(v => ({ value: v })); },
          afterFit: s => { s.height = 31; s.paddingLeft = 0; s.paddingRight = 0; },
          ticks: { autoSkip: false, maxRotation: 0, padding: 1 }
        },
        y
      }
    },
    plugins: [frame]
  });
}
fracChart('nOrf', 'N ORF', nBlueDay, nBlueFrac, nRedDay, nRedFrac, false);
fracChart('sOrf', 'S ORF', sBlueDay, sBlueFrac, sRedDay, sRedFrac, true);
</script>
</body>
</html>
